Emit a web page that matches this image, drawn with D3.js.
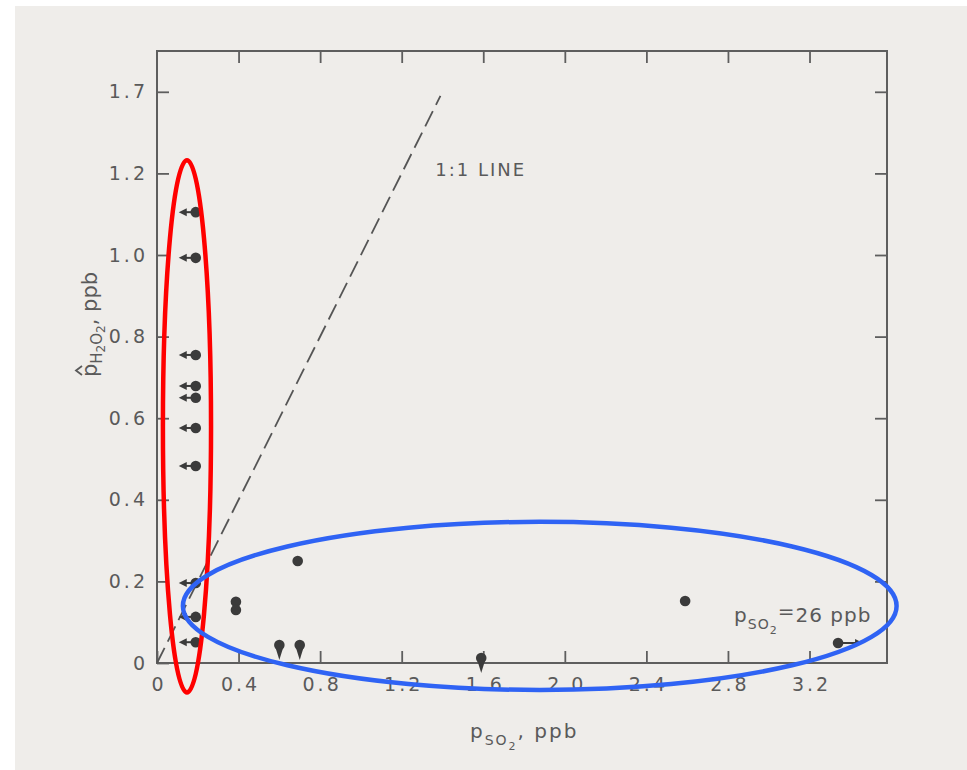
<!DOCTYPE html>
<html>
<head>
<meta charset="utf-8">
<script src="https://cdn.jsdelivr.net/npm/d3@7"></script>
<style>
  html, body { margin: 0; padding: 0; background: #ffffff; }
  svg { display: block; }
  text { font-family: "DejaVu Sans", "Liberation Sans", Arial, sans-serif; fill: #5a5a5a; }
</style>
</head>
<body>
<svg id="chart" width="967" height="770"></svg>
<script>
// ---------- data ----------
const xTickValues = [0, 0.4, 0.8, 1.2, 1.6, 2.0, 2.4, 2.8, 3.2];
const xTickLabels = ["0", "0.4", "0.8", "1.2", "1.6", "2.0", "2.4", "2.8", "3.2"];
const yTickValues = [0, 0.2, 0.4, 0.6, 0.8, 1.0, 1.2, 1.4];
const yTickLabels = ["0", "0.2", "0.4", "0.6", "0.8", "1.0", "1.2", "1.7"];

// p_SO2 (ppb)
const pointX = [0.19, 0.19, 0.19, 0.19, 0.19, 0.19, 0.19, 0.19, 0.19, 0.19,
                0.387, 0.387, 0.69, 0.60, 0.70, 1.59, 2.59, 3.34];
// p^_H2O2 (ppb)
const pointY = [1.105, 0.993, 0.755, 0.679, 0.65, 0.576, 0.483, 0.196, 0.113, 0.051,
                0.15, 0.13, 0.25, 0.044, 0.044, 0.012, 0.152, 0.049];
// limit direction of each observation
const pointLimit = ["left", "left", "left", "left", "left", "left", "left", "left", "left", "left",
                    "none", "none", "none", "down", "down", "down", "none", "right"];

const oneToOne = [0, 1.39];   // 1:1 line extent

// highlight ellipses (data units)
const ellipseNames = ["red", "blue"];
const ellipseCx = [0.147, 1.877];
const ellipseCy = [0.58, 0.14];
const ellipseRx = [0.118, 1.75];
const ellipseRy = [0.652, 0.206];

// ---------- layout ----------
const svg = d3.select("#chart");
const W = 967, H = 770;
const mLeft = 157, mRight = 887, mTop = 51, mBottom = 663;
const ink = "#5e5e5e";
const labelInk = "#666666";

svg.append("rect").attr("x", 0).attr("y", 0).attr("width", W).attr("height", H).attr("fill", "#ffffff");
svg.append("rect").attr("x", 15).attr("y", 6).attr("width", W - 15).attr("height", H - 6).attr("fill", "#efedea");

const x = d3.scaleLinear().domain([0, 3.58]).range([mLeft, mRight]);
const y = d3.scaleLinear().domain([0, 1.5]).range([mBottom, mTop]);

// axes
function styleAxis(g) {
  g.select(".domain").remove();
  g.selectAll(".tick line").attr("stroke", ink).attr("stroke-width", 1.8);
  g.selectAll(".tick text").attr("fill", labelInk).style("font-size", "19px")
    .style("letter-spacing", "3px")
    .style("font-family", "'DejaVu Sans', sans-serif");
}
svg.append("g").attr("transform", `translate(0,${mBottom})`)
  .call(d3.axisBottom(x).tickValues(xTickValues).tickSize(-12).tickPadding(15)
    .tickFormat((d, i) => xTickLabels[i]))
  .call(styleAxis)
  .call(g => g.selectAll(".tick text").attr("dx", 1.5));
svg.append("g").attr("transform", `translate(0,${mTop})`)
  .call(d3.axisTop(x).tickValues(xTickValues.slice(1)).tickSize(-12).tickFormat(""))
  .call(styleAxis);
svg.append("g").attr("transform", `translate(${mLeft},0)`)
  .call(d3.axisLeft(y).tickValues(yTickValues).tickSize(-12).tickPadding(9)
    .tickFormat((d, i) => yTickLabels[i]))
  .call(styleAxis);
svg.append("g").attr("transform", `translate(${mRight},0)`)
  .call(d3.axisRight(y).tickValues(yTickValues.slice(1)).tickSize(-12).tickFormat(""))
  .call(styleAxis);

// frame
svg.append("rect").attr("x", mLeft).attr("y", mTop)
  .attr("width", mRight - mLeft).attr("height", mBottom - mTop)
  .attr("fill", "none").attr("stroke", ink).attr("stroke-width", 2);

// 1:1 line
svg.append("line")
  .attr("x1", x(oneToOne[0])).attr("y1", y(oneToOne[0]))
  .attr("x2", x(oneToOne[1])).attr("y2", y(oneToOne[1]))
  .attr("stroke", "#555").attr("stroke-width", 1.8).attr("stroke-dasharray", "17,7");
svg.append("text").attr("x", x(1.365)).attr("y", y(1.2) + 3)
  .style("font-size", "18px").style("letter-spacing", "2px").attr("fill", "#6a6a6a").text("1:1 LINE");

// points
const pts = pointX.map((d, i) => ({ x: pointX[i], y: pointY[i], lim: pointLimit[i] }));
const dotColor = "#3b3b3b";
const pg = svg.append("g");
pts.forEach(p => {
  const cx = x(p.x), cy = y(p.y);
  if (p.lim === "left") {
    pg.append("line").attr("x1", cx).attr("y1", cy).attr("x2", cx - 12).attr("y2", cy)
      .attr("stroke", dotColor).attr("stroke-width", 2);
    pg.append("path").attr("d", `M${cx - 17},${cy} L${cx - 9},${cy - 4} L${cx - 9},${cy + 4} Z`)
      .attr("fill", dotColor);
  } else if (p.lim === "right") {
    pg.append("line").attr("x1", cx).attr("y1", cy).attr("x2", cx + 20).attr("y2", cy)
      .attr("stroke", dotColor).attr("stroke-width", 2);
    pg.append("path").attr("d", `M${cx + 25},${cy} L${cx + 17},${cy - 4} L${cx + 17},${cy + 4} Z`)
      .attr("fill", dotColor);
  } else if (p.lim === "down") {
    pg.append("path").attr("d", `M${cx - 4},${cy + 2} L${cx + 4},${cy + 2} L${cx},${cy + 15} Z`)
      .attr("fill", dotColor);
  }
  pg.append("circle").attr("cx", cx).attr("cy", cy).attr("r", 5.3).attr("fill", dotColor);
});

// annotation p_SO2 = 26 ppb
const ann = svg.append("text").attr("x", x(2.83)).attr("y", y(0.1))
  .style("font-size", "20px").style("letter-spacing", "1px").attr("fill", "#5a5a5a");
ann.append("tspan").text("p");
ann.append("tspan").attr("dy", 7).style("font-size", "14px").text("SO");
ann.append("tspan").attr("dy", 5).style("font-size", "11px").text("2");
ann.append("tspan").attr("dy", -16).text("=");
ann.append("tspan").attr("dy", 4).text("26 ppb");

// x axis title
const xt = svg.append("text").attr("x", 470).attr("y", 738)
  .style("font-size", "20px").style("letter-spacing", "2px").attr("fill", "#5a5a5a");
xt.append("tspan").text("p");
xt.append("tspan").attr("dy", 7).style("font-size", "14px").text("SO");
xt.append("tspan").attr("dy", 5).style("font-size", "11px").text("2");
xt.append("tspan").attr("dy", -12).text(", ppb");

// y axis title (rotated)
const ytg = svg.append("g").attr("transform", "translate(97,377) rotate(-90)");
const yt = ytg.append("text").attr("x", 0).attr("y", 0)
  .style("font-size", "21px").attr("fill", "#5a5a5a");
yt.append("tspan").text("p");
yt.append("tspan").attr("dy", 5).style("font-size", "15px").text("H");
yt.append("tspan").attr("dy", 3).style("font-size", "12px").text("2");
yt.append("tspan").attr("dy", -3).style("font-size", "15px").text("O");
yt.append("tspan").attr("dy", 3).style("font-size", "12px").text("2");
yt.append("tspan").attr("dy", -8).text(", ppb");
ytg.append("path").attr("d", "M2,-15 L6.5,-21 L11,-15")
  .attr("fill", "none").attr("stroke", "#5a5a5a").attr("stroke-width", 1.8);

// highlight ellipses
const ellColors = { red: "#ff0000", blue: "#2f63f4" };
ellipseNames.forEach((n, i) => {
  const cx = x(ellipseCx[i]), cy = y(ellipseCy[i]);
  const rx = x(ellipseCx[i] + ellipseRx[i]) - cx;
  const ry = cy - y(ellipseCy[i] + ellipseRy[i]);
  svg.append("ellipse").attr("cx", cx).attr("cy", cy).attr("rx", rx).attr("ry", ry)
    .attr("fill", "none").attr("stroke", ellColors[n]).attr("stroke-width", 4.5);
});
</script>
</body>
</html>
